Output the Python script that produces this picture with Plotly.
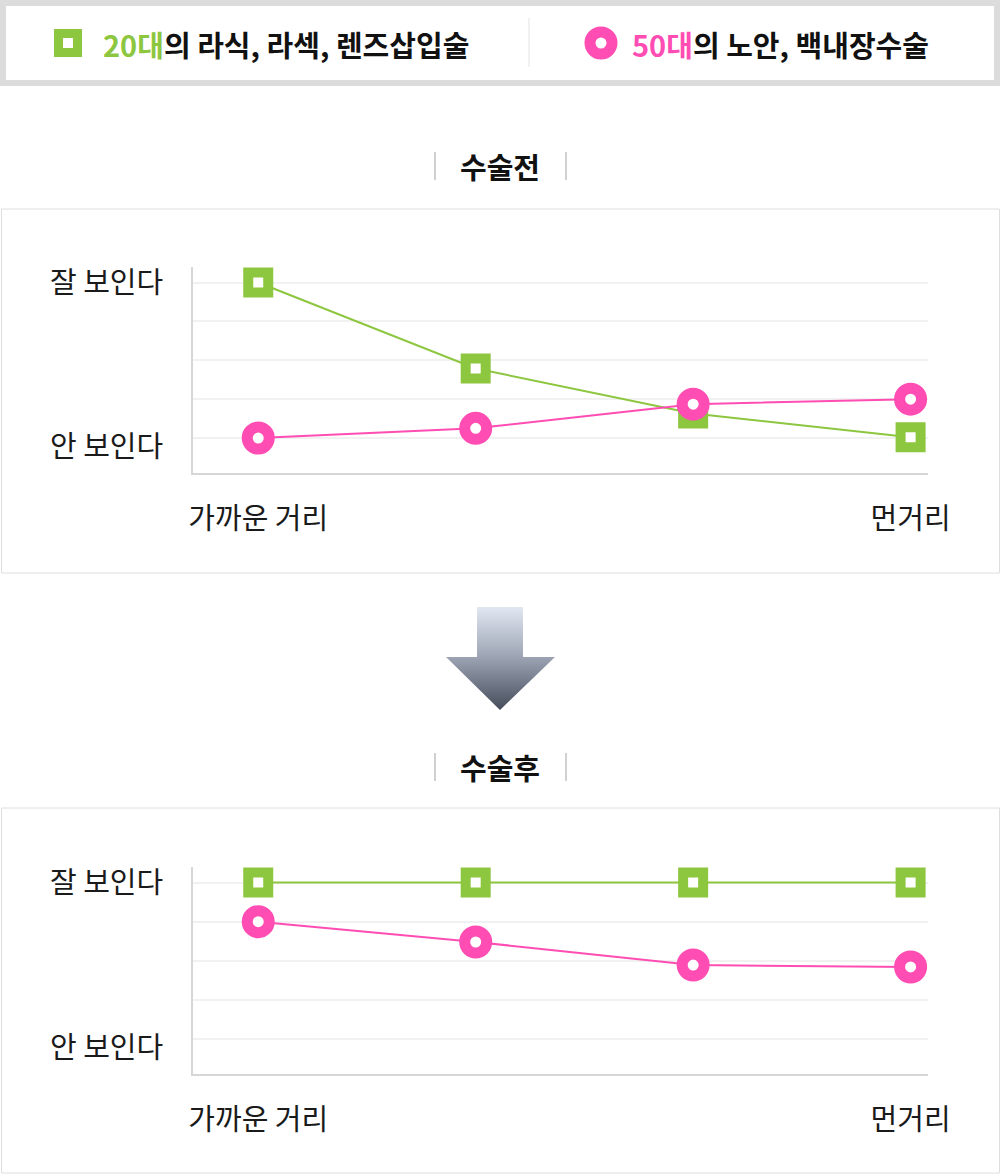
import plotly.graph_objects as go

# ---------------- data ----------------
distances = ["가까운 거리", "", "", "먼거리"]
x_idx = [0, 1, 2, 3]
series_names = ["20대의 라식, 라섹, 렌즈삽입술", "50대의 노안, 백내장수술"]
before_20s = [5.0, 2.79, 1.63, 1.02]
before_50s = [1.0, 1.25, 1.87, 2.0]
after_20s = [5.0, 5.0, 5.0, 5.0]
after_50s = [4.0, 3.48, 2.89, 2.84]
y_tick_vals = [0.77, 5]
y_tick_text = ["안 보인다", "잘 보인다"]
grid_vals = [1, 2, 3, 4, 5]
panel_titles = ["수술전", "수술후"]

GREEN = "#8dc63f"
PINK = "#ff4db3"
FONT = "Noto Sans CJK KR"
W, H = 1001, 1175

fig = go.Figure()

def add_series(xa, ya, g, p):
    fig.add_trace(go.Scatter(
        x=x_idx, y=g, mode="lines+markers", name=series_names[0],
        xaxis=xa, yaxis=ya, showlegend=False, hoverinfo="skip",
        line=dict(color=GREEN, width=2),
        marker=dict(symbol="square", size=20, color="white",
                    line=dict(color=GREEN, width=10))))
    fig.add_trace(go.Scatter(
        x=x_idx, y=p, mode="lines+markers", name=series_names[1],
        xaxis=xa, yaxis=ya, showlegend=False, hoverinfo="skip",
        line=dict(color=PINK, width=2),
        marker=dict(symbol="circle", size=22, color="white",
                    line=dict(color=PINK, width=11))))

add_series("x", "y", before_20s, before_50s)
add_series("x2", "y2", after_20s, after_50s)

# arrow with vertical gradient (decoration, pixel-space overlay axis)
ax_ = [477, 523, 523, 555, 500, 446, 477, 477]
ay_ = [607, 607, 657, 657, 710, 657, 657, 607]
fig.add_trace(go.Scatter(
    x=ax_, y=ay_, xaxis="x3", yaxis="y3", mode="lines", fill="toself",
    line=dict(width=0, color="rgba(0,0,0,0)"), showlegend=False, hoverinfo="skip",
    fillgradient=dict(type="vertical", start=607, stop=710,
                      colorscale=[[0, "#e1e8f2"], [0.5, "#9aa2b2"], [1, "#454c5a"]])))

# legend markers
fig.add_trace(go.Scatter(
    x=[68], y=[43], xaxis="x3", yaxis="y3", mode="markers", showlegend=False,
    hoverinfo="skip",
    marker=dict(symbol="square", size=19, color="white", line=dict(color=GREEN, width=9))))
fig.add_trace(go.Scatter(
    x=[601], y=[43], xaxis="x3", yaxis="y3", mode="markers", showlegend=False,
    hoverinfo="skip",
    marker=dict(symbol="circle", size=22, color="white", line=dict(color=PINK, width=11))))

shapes = []
shapes.append(dict(type="rect", xref="x3", yref="y3", x0=3, x1=997, y0=3, y1=83,
                   line=dict(color="#dcdcdc", width=6), fillcolor="rgba(0,0,0,0)"))
shapes.append(dict(type="line", xref="x3", yref="y3", x0=529, x1=529, y0=18, y1=67,
                   line=dict(color="#e2e2e2", width=1)))
for y0, y1 in [(209, 573), (808, 1173)]:
    shapes.append(dict(type="rect", xref="x3", yref="y3", x0=1.5, x1=999.5, y0=y0, y1=y1,
                       line=dict(color="#dedede", width=1), fillcolor="rgba(0,0,0,0)"))
for yc in [166, 767]:
    for xb in [435, 566]:
        shapes.append(dict(type="line", xref="x3", yref="y3", x0=xb, x1=xb,
                           y0=yc - 14, y1=yc + 14, line=dict(color="#d0d0d0", width=2)))

annotations = []
annotations.append(dict(xref="x3", yref="y3", x=101, y=44, xanchor="left", yanchor="middle",
                        showarrow=False,
                        text="<b><span style='color:%s'>20대</span>의 라식, 라섹, 렌즈삽입술</b>" % GREEN,
                        font=dict(family=FONT, size=29, color="#111")))
annotations.append(dict(xref="x3", yref="y3", x=630, y=44, xanchor="left", yanchor="middle",
                        showarrow=False,
                        text="<b><span style='color:%s'>50대</span>의 노안, 백내장수술</b>" % PINK,
                        font=dict(family=FONT, size=29, color="#111")))
for t, yc in zip(panel_titles, [166, 767]):
    annotations.append(dict(xref="x3", yref="y3", x=500, y=yc, xanchor="center",
                            yanchor="middle", showarrow=False, text="<b>%s</b>" % t,
                            font=dict(family=FONT, size=29, color="#111")))

def xaxis_cfg(anchor):
    return dict(domain=[193 / W, 928 / W], range=[-0.3, 3.08], anchor=anchor,
                tickvals=[0, 3], ticktext=[distances[0], distances[3]],
                showgrid=False, zeroline=False, showline=True, linecolor="#d6d6d6",
                linewidth=2, ticks="", ticklabelstandoff=19, automargin=False,
                tickfont=dict(family=FONT, size=29, color="#1a1a1a"), fixedrange=True)

def yaxis_cfg(anchor, top_px, bot_px):
    return dict(domain=[1 - bot_px / H, 1 - top_px / H], range=[0.1, 5.4], anchor=anchor,
                tickvals=y_tick_vals, ticktext=y_tick_text, showgrid=False,
                zeroline=False, showline=True, linecolor="#d6d6d6", linewidth=2,
                ticks="", ticklabelstandoff=22, automargin=False,
                minor=dict(tickvals=grid_vals, showgrid=True, gridcolor="#f1f1f1",
                           gridwidth=2, ticks=""),
                tickfont=dict(family=FONT, size=29, color="#1a1a1a"), fixedrange=True)

fig.update_layout(
    width=W, height=H, autosize=False,
    margin=dict(l=0, r=0, t=0, b=0, pad=0, autoexpand=False),
    paper_bgcolor="white", plot_bgcolor="rgba(0,0,0,0)",
    xaxis=xaxis_cfg("y"), yaxis=yaxis_cfg("x", 267, 473),
    xaxis2=xaxis_cfg("y2"), yaxis2=yaxis_cfg("x2", 867, 1074),
    xaxis3=dict(domain=[0, 1], range=[0, W], anchor="y3", visible=False,
                fixedrange=True, automargin=False),
    yaxis3=dict(domain=[0, 1], range=[H, 0], anchor="x3", visible=False,
                fixedrange=True, automargin=False),
    shapes=shapes, annotations=annotations, showlegend=False,
)

fig.write_html("out.html", config={"displayModeBar": False})
